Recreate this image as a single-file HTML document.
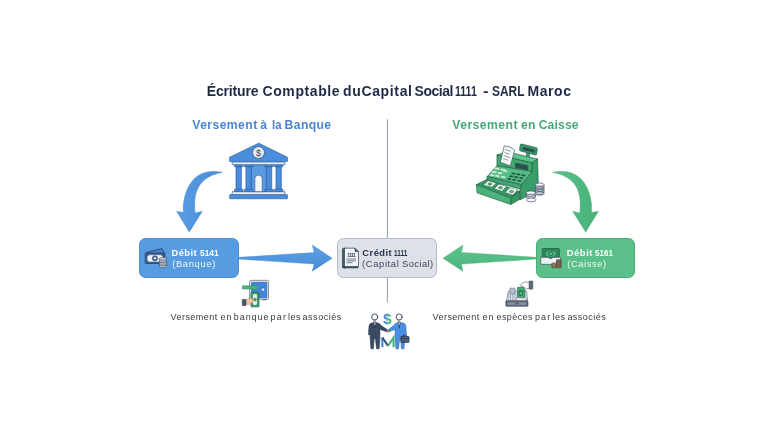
<!DOCTYPE html>
<html lang="fr">
<head>
<meta charset="utf-8">
<title>Écriture Comptable du Capital Social 1111 - SARL Maroc</title>
<style>
  html, body { margin: 0; padding: 0; }
  body {
    width: 768px; height: 432px; overflow: hidden; position: relative;
    background: #ffffff;
    font-family: "Liberation Sans", sans-serif;
  }
  .ln { position:absolute; left:0; top:0; margin:0; padding:0; will-change: transform; }
  .ln span { position:absolute; white-space:nowrap; line-height:1; transform-origin:0 0; display:block; }
  .box { position: absolute; box-sizing: border-box; border-radius: 6.5px; }
  #bl { left: 139.3px; top: 238.4px; width: 99.5px; height: 39.5px; background: #579be1; border: 1px solid #4a8cd8; }
  #bc { left: 337.3px; top: 238.4px; width: 99.6px; height: 39.3px; background: #dee1e8; border: 1px solid #b3bbc8; }
  #br { left: 535.5px; top: 238.4px; width: 99.7px; height: 39.5px; background: #5abf88; border: 1px solid #49ad78; }
  /*TEXTCSS*/
  #title { font-size:14.0px; font-weight:700; color:#1f2a44; }
  #hl { font-size:12.2px; font-weight:700; color:#4a86d2; }
  #hr { font-size:12.2px; font-weight:700; color:#49a877; }
  #bl1 { font-size:9.4px; font-weight:700; color:#ffffff; }
  #bl2 { font-size:9.4px; font-weight:400; color:rgba(255,255,255,0.9); }
  #bc1 { font-size:9.4px; font-weight:700; color:#27324c; }
  #bc2 { font-size:9.4px; font-weight:400; color:#3c4860; }
  #br1 { font-size:9.4px; font-weight:700; color:#ffffff; }
  #br2 { font-size:9.4px; font-weight:400; color:rgba(255,255,255,0.9); }
  #cl { font-size:9.0px; font-weight:400; color:#3a3a3a; }
  #cr { font-size:9.0px; font-weight:400; color:#3a3a3a; }
  /*/TEXTCSS*/
  svg { position: absolute; left: 0; top: 0; overflow: visible; }
</style>
</head>
<body>

<!-- ARROWS + LINE -->
<svg id="arrows" width="768" height="432" viewBox="0 0 768 432">
  <defs>
    <linearGradient id="gb" x1="0" y1="0" x2="0" y2="1">
      <stop offset="0" stop-color="#5da0e5"/><stop offset="1" stop-color="#478cd8"/>
    </linearGradient>
    <linearGradient id="gg" x1="0" y1="0" x2="0" y2="1">
      <stop offset="0" stop-color="#60c48e"/><stop offset="1" stop-color="#48b37a"/>
    </linearGradient>
    <linearGradient id="gbc" x1="0" y1="0" x2="1" y2="0">
      <stop offset="0" stop-color="#5b9ee4"/><stop offset="1" stop-color="#4589d7"/>
    </linearGradient>
    <linearGradient id="ggc" x1="0" y1="0" x2="1" y2="0">
      <stop offset="0" stop-color="#5cc18a"/><stop offset="1" stop-color="#46b178"/>
    </linearGradient>
  </defs>
  <!-- centre line -->
  <rect x="386.85" y="119.3" width="1.15" height="120" fill="#a1a9b7"/>
  <rect x="386.85" y="277" width="1.15" height="25.6" fill="#a1a9b7"/>
  <!-- blue curved arrow -->
  <path d="M222.3 172.3 C186.6 165.1 182.1 202 183.6 212.5 L176.7 211.4 L189.3 232 L202.2 211.4 L195 213 C194.2 199.8 192.7 177.9 222.3 172.3 Z" fill="url(#gbc)" stroke="#4384d0" stroke-width="0.5"/>
  <!-- green curved arrow -->
  <path d="M552.7 172.3 C588.4 165.1 592.9 202 591.4 212.5 L598.3 211.4 L585.7 232 L572.8 211.4 L580 213 C580.8 199.8 582.3 177.9 552.7 172.3 Z" fill="url(#ggc)" stroke="#43a872" stroke-width="0.5"/>
  <!-- blue straight arrow -->
  <path d="M238.5 257.3 L314.2 252.6 L312.2 245.1 L332.2 258.2 L312.2 271.3 L314.2 264 L238.5 259.1 Z" fill="url(#gb)" stroke="#4384d0" stroke-width="0.4"/>
  <!-- green straight arrow -->
  <path d="M536 257.3 L461.4 252.4 L462.9 245.1 L443 258.2 L462.9 271.3 L461.4 264.1 L536 259.1 Z" fill="url(#gg)" stroke="#43a872" stroke-width="0.4"/>
</svg>

<!-- BOXES -->
<div class="box" id="bl"></div>
<div class="box" id="bc"></div>
<div class="box" id="br"></div>

<!--TEXT-->
<h1 class="ln" id="title"><span style="left:206.75px;top:84.15px;letter-spacing:-0.161px;">Écriture</span> <span style="left:262.50px;top:84.15px;letter-spacing:0.591px;">Comptable</span> <span style="left:343.00px;top:84.15px;letter-spacing:0.647px;">duCapital</span> <span style="left:414.50px;top:84.15px;letter-spacing:-0.450px;">Social</span> <span style="left:455.25px;top:84.15px;transform:scaleX(0.7574);">1111</span> <span style="left:483.00px;top:84.15px;transform:scaleX(1.2042);">-</span> <span style="left:491.75px;top:84.15px;transform:scaleX(0.8511);">SARL</span> <span style="left:527.50px;top:84.15px;letter-spacing:0.563px;">Maroc</span></h1>
<h2 class="ln" id="hl"><span style="left:192.30px;top:118.67px;letter-spacing:0.405px;">Versement</span> <span style="left:260.25px;top:118.67px;">à</span> <span style="left:271.80px;top:118.67px;transform:scaleX(0.9359);">la</span> <span style="left:284.60px;top:118.67px;letter-spacing:0.351px;">Banque</span></h2>
<h2 class="ln" id="hr"><span style="left:452.30px;top:118.67px;letter-spacing:0.450px;">Versement</span> <span style="left:521.00px;top:118.67px;letter-spacing:0.270px;">en</span> <span style="left:538.65px;top:118.67px;letter-spacing:0.135px;">Caisse</span></h2>
<div class="ln" id="bl1"><span style="left:171.45px;top:248.04px;letter-spacing:0.428px;">Débit</span> <span style="left:199.65px;top:248.04px;transform:scaleX(0.8918);">5141</span></div>
<div class="ln" id="bl2"><span style="left:172.15px;top:259.04px;letter-spacing:0.669px;">(Banque)</span></div>
<div class="ln" id="bc1"><span style="left:362.35px;top:248.04px;letter-spacing:0.459px;">Crédit</span> <span style="left:393.60px;top:248.04px;transform:scaleX(0.6834);">1111</span></div>
<div class="ln" id="bc2"><span style="left:362.10px;top:259.04px;letter-spacing:0.617px;">(Capital</span> <span style="left:402.00px;top:259.04px;letter-spacing:0.428px;">Social)</span></div>
<div class="ln" id="br1"><span style="left:566.80px;top:248.04px;letter-spacing:0.540px;">Débit</span> <span style="left:594.95px;top:248.04px;transform:scaleX(0.8596);">5161</span></div>
<div class="ln" id="br2"><span style="left:567.30px;top:259.04px;letter-spacing:0.546px;">(Caisse)</span></div>
<p class="ln" id="cl"><span style="left:170.50px;top:313.38px;letter-spacing:0.461px;">Versement</span> <span style="left:220.55px;top:313.38px;letter-spacing:0.900px;">en</span> <span style="left:233.75px;top:313.38px;letter-spacing:0.945px;">banque</span> <span style="left:270.50px;top:313.38px;letter-spacing:1.238px;">par</span> <span style="left:288.00px;top:313.38px;letter-spacing:0.495px;">les</span> <span style="left:302.50px;top:313.38px;letter-spacing:0.546px;">associés</span></p>
<p class="ln" id="cr"><span style="left:432.50px;top:313.38px;letter-spacing:0.461px;">Versement</span> <span style="left:482.55px;top:313.38px;letter-spacing:0.900px;">en</span> <span style="left:496.50px;top:313.38px;letter-spacing:0.405px;">espèces</span> <span style="left:534.95px;top:313.38px;letter-spacing:1.170px;">par</span> <span style="left:552.60px;top:313.38px;letter-spacing:0.405px;">les</span> <span style="left:567.40px;top:313.38px;letter-spacing:0.463px;">associés</span></p>
<!--/TEXT-->

<!-- ICONS -->
<!--ICON-BANK-->
<svg id="ic-bank" style="left:224px;top:138px" width="72" height="64" viewBox="0 0 486 432">
  <g stroke="#2b5c9e" stroke-width="4.5" stroke-linejoin="round">
    <!-- base -->
    <rect x="38" y="382" width="390" height="28" rx="4" fill="#4a8edb"/>
    <rect x="55" y="362" width="356" height="20" fill="#e9edf3"/>
    <!-- centre body -->
    <rect x="183" y="180" width="104" height="182" fill="#5b9ae0"/>
    <!-- door -->
    <path d="M208 362 V275 a25 25 0 0 1 50 0 V362 Z" fill="#f4f6fa"/>
    <!-- columns -->
    <g fill="#4a8edb">
      <rect x="81" y="192" width="36" height="156"/><rect x="70" y="180" width="58" height="14" rx="3"/><rect x="70" y="346" width="58" height="16" rx="3"/>
      <rect x="148" y="192" width="36" height="156"/><rect x="137" y="180" width="58" height="14" rx="3"/><rect x="137" y="346" width="58" height="16" rx="3"/>
      <rect x="286" y="192" width="36" height="156"/><rect x="275" y="180" width="58" height="14" rx="3"/><rect x="275" y="346" width="58" height="16" rx="3"/>
      <rect x="351" y="192" width="36" height="156"/><rect x="340" y="180" width="58" height="14" rx="3"/><rect x="340" y="346" width="58" height="16" rx="3"/>
    </g>
    <!-- entablature -->
    <rect x="55" y="162" width="356" height="18" fill="#e9edf3"/>
    <!-- roof -->
    <path d="M235 35 L428 130 V158 H38 V130 Z" fill="#4a8edb"/>
    <circle cx="233" cy="98" r="40" fill="#e9edf3" stroke="#3a4a63" stroke-width="5"/>
  </g>
  <text x="233" y="121" font-family="Liberation Sans, sans-serif" font-size="62" font-weight="400" text-anchor="middle" fill="#3a4a63">$</text>
</svg>
<!--/ICON-BANK-->
<!--ICON-REGISTER-->
<svg id="ic-register" style="left:474px;top:140px" width="72" height="66" viewBox="0 0 471 432">
  <g stroke="#1d5245" stroke-width="4" stroke-linejoin="round">
    <!-- pole + sign -->
    <path d="M343 85 L362 89 V142 L343 138 Z" fill="#3fa86d"/>
    <path d="M312 26 L408 50 Q416 53 414 62 L410 92 Q408 100 400 98 L304 72 Q297 70 298 62 L302 34 Q304 25 312 26 Z" fill="#379a63"/>
    <path d="M320 44 L398 64 L395 84 L317 63 Z" fill="#2b4f55" stroke="none"/>
    <!-- right side of body -->
    <path d="M380 150 L416 124 L422 330 L300 392 L300 330 L310 292 L380 205 Z" fill="#3a9c66"/>
    <!-- top face of upper block -->
    <path d="M150 98 L212 76 L416 124 L380 150 Z" fill="#5cc38b"/>
    <!-- front face of upper block -->
    <path d="M150 98 L380 150 L380 206 L150 168 Z" fill="#42a96f"/>
    <!-- display -->
    <path d="M270 150 L352 167 L352 197 L270 180 Z" fill="#2b4f55" stroke-width="3"/>
    <!-- receipt -->
    <path d="M198 38 Q236 40 266 66 L238 170 L172 146 Z" fill="#f6f8f7" stroke="#2a4a5a" stroke-width="4"/>
    <!-- keypad slanted face -->
    <path d="M150 168 L380 206 L310 292 L85 240 Z" fill="#56bd85"/>
    <!-- front strip -->
    <path d="M85 240 L310 292 L306 322 L85 262 Z" fill="#40a86e"/>
    <!-- drawer interior -->
    <path d="M15 292 L85 258 L300 338 L240 380 Z" fill="#379763"/>
    <!-- drawer right side -->
    <path d="M240 380 L300 338 L300 388 L240 422 Z" fill="#379763"/>
    <!-- drawer front -->
    <path d="M15 292 L240 380 L240 422 L20 346 Z" fill="#49b47a"/>
  </g>
  <!-- receipt lines -->
  <g stroke="#4a6070" stroke-width="4" fill="none">
    <path d="M205 62 L240 74"/><path d="M200 82 L232 93"/><path d="M196 102 L236 116"/><path d="M192 122 L222 132"/>
  </g>
  <!-- light keys -->
  <g fill="#d8f0e0">
    <path d="M140 180 l28 5 l-8 10 l-28 -5z"/><path d="M178 187 l28 5 l-8 10 l-28 -5z"/><path d="M122 202 l28 5 l-8 10 l-28 -5z"/><path d="M160 209 l28 5 l-8 10 l-28 -5z"/><path d="M198 196 l24 5 l-8 10 l-24 -5z"/><path d="M142 228 l28 6 l-8 10 l-28 -6z"/><path d="M182 234 l26 6 l-8 10 l-26 -6z"/><path d="M110 222 l24 5 l-8 10 l-24 -5z"/>
  </g>
  <!-- dark keys -->
  <g fill="#235548">
    <path d="M250 212 l24 5 l-8 10 l-24 -5z"/><path d="M283 218 l24 5 l-8 10 l-24 -5z"/><path d="M316 224 l24 5 l-8 10 l-24 -5z"/>
    <path d="M236 230 l24 5 l-8 10 l-24 -5z"/><path d="M269 236 l24 5 l-8 10 l-24 -5z"/><path d="M302 242 l24 5 l-8 10 l-24 -5z"/>
    <path d="M222 248 l24 5 l-8 10 l-24 -5z"/><path d="M255 254 l24 5 l-8 10 l-24 -5z"/><path d="M288 260 l24 5 l-8 10 l-24 -5z"/>
  </g>
  <!-- bills in drawer -->
  <g stroke="#1d5245" stroke-width="2.5">
    <path d="M93 266 L145 281 L117 309 L62 294 Z" fill="#eef5ef"/>
    <path d="M163 289 L213 303 L183 336 L133 319 Z" fill="#eef5ef"/>
    <path d="M234 313 L287 325 L253 360 L204 343 Z" fill="#eef5ef"/>
    <ellipse cx="104" cy="288" rx="13" ry="8" fill="#4ab57c"/>
    <ellipse cx="173" cy="312" rx="13" ry="8" fill="#4ab57c"/>
    <ellipse cx="245" cy="337" rx="13" ry="8" fill="#4ab57c"/>
  </g>
  <circle cx="122" cy="354" r="7" fill="#e8efe9" stroke="#1f5a48" stroke-width="3"/>
  <!-- coins -->
  <g stroke="#3a4a63" stroke-width="4" fill="#f2f4f7">
    <path d="M402 292 V350 a28 11 0 0 0 56 0 V292 Z"/>
    <ellipse cx="430" cy="348" rx="28" ry="11" fill="none"/>
    <ellipse cx="430" cy="337" rx="28" ry="11" fill="none"/>
    <ellipse cx="430" cy="326" rx="28" ry="11" fill="none"/>
    <ellipse cx="430" cy="315" rx="28" ry="11" fill="none"/>
    <ellipse cx="430" cy="304" rx="28" ry="11" fill="none"/>
    <ellipse cx="430" cy="292" rx="28" ry="11"/>
    <path d="M342 345 V372 a30 12 0 0 0 60 0 V345 Z"/>
    <ellipse cx="372" cy="370" rx="30" ry="12" fill="none"/>
    <ellipse cx="372" cy="358" rx="30" ry="12" fill="none"/>
    <ellipse cx="372" cy="345" rx="30" ry="12"/>
    <ellipse cx="374" cy="392" rx="32" ry="13"/>
  </g>
</svg>
<!--/ICON-REGISTER-->
<!--ICON-MONEY-L-->
<svg id="ic-moneyl" style="left:140px;top:244px" width="36" height="30" viewBox="0 0 518 432">
  <g stroke="#2a4468" stroke-width="12" stroke-linejoin="round">
    <!-- back bill -->
    <path d="M95 120 L315 65 L355 140 L355 250 L120 270 Z" fill="#4a84cf"/>
    <!-- front bill -->
    <rect x="75" y="130" width="280" height="150" rx="6" fill="#3a639c"/>
    <path d="M130 155 H300 L330 180 V235 L300 258 H130 L102 235 V180 Z" fill="#eef1f5" stroke-width="6"/>
    <circle cx="215" cy="206" r="38" fill="#35588c" stroke-width="6"/>
    <circle cx="215" cy="206" r="18" fill="#eef1f5" stroke="none"/>
    <!-- coin stack -->
    <path d="M278 215 V325 a52 20 0 0 0 104 0 V215 Z" fill="#aab3bf" stroke-width="8"/>
  </g>
  <g stroke="#3a4a63" stroke-width="8" fill="none">
    <ellipse cx="330" cy="215" rx="52" ry="20" fill="#c9d0d9"/>
    <path d="M278 250 a52 20 0 0 0 104 0"/>
    <path d="M278 288 a52 20 0 0 0 104 0"/>
  </g>
</svg>
<!--/ICON-MONEY-L-->
<!--ICON-DOC-->
<svg id="ic-doc" style="left:336px;top:240px" width="36" height="36" viewBox="0 0 432 432">
  <!-- back page -->
  <path d="M78 110 Q78 98 90 98 H120 V335 H90 Q78 335 78 323 Z" fill="#2f6b58" stroke="#26374f" stroke-width="8" stroke-linejoin="round"/>
  <path d="M90 318 H262 V335 H90 Z" fill="#2f6b58" stroke="#26374f" stroke-width="8" stroke-linejoin="round"/>
  <!-- front page -->
  <path d="M102 98 H228 L270 140 V318 H102 Z" fill="#f3f5f8" stroke="#26374f" stroke-width="8" stroke-linejoin="round"/>
  <path d="M228 98 V140 H270 Z" fill="#3c7a66" stroke="#26374f" stroke-width="6" stroke-linejoin="round"/>
  <g stroke="#4a566b" stroke-width="9" fill="none">
    <path d="M125 228 H240"/><path d="M125 250 H240"/><path d="M125 272 H200"/>
  </g>
  <text x="183" y="200" text-anchor="middle" font-family="Liberation Sans, sans-serif" font-weight="700" font-size="62" letter-spacing="-8" fill="#3a465c">1111</text>
</svg>
<!--/ICON-DOC-->
<!--ICON-MONEY-R-->
<svg id="ic-moneyr" style="left:534px;top:240px" width="36" height="36" viewBox="0 0 432 432">
  <g stroke-linejoin="round">
    <!-- bill -->
    <rect x="98" y="102" width="206" height="128" rx="6" fill="#2f8a5a" stroke="#1f5a48" stroke-width="9"/>
    <ellipse cx="201" cy="166" rx="74" ry="42" fill="#46ad76" stroke="#1f5a48" stroke-width="6"/>
    <circle cx="201" cy="166" r="24" fill="#2f8a5a" stroke="#1f5a48" stroke-width="5"/>
    <circle cx="201" cy="166" r="10" fill="#bfe6cf"/>
    <!-- tray -->
    <path d="M82 208 H170 Q200 240 232 208 H320 V292 H82 Z" fill="#eef1f5" stroke="#3a4a63" stroke-width="8"/>
    <!-- coin stacks -->
    <rect x="270" y="236" width="56" height="98" rx="8" fill="#8a6f4e" stroke="#3f3a3a" stroke-width="7"/>
    <rect x="214" y="276" width="56" height="58" rx="8" fill="#a98a62" stroke="#3f3a3a" stroke-width="7"/>
    <g stroke="#3f3a3a" stroke-width="6"><path d="M270 262 H326"/><path d="M270 288 H326"/><path d="M270 312 H326"/><path d="M214 300 H270"/><path d="M214 318 H270"/></g>
  </g>
</svg>
<!--/ICON-MONEY-R-->
<!--ICON-SAFE-->
<svg id="ic-safe" style="left:236px;top:276px" width="40" height="36" viewBox="0 0 480 432">
  <g stroke-linejoin="round">
    <!-- feet -->
    <rect x="318" y="270" width="50" height="18" rx="6" fill="#4a8edb" stroke="#3a4a63" stroke-width="6"/>
    <!-- safe body -->
    <rect x="162" y="52" width="228" height="226" rx="14" fill="#e3e7ed" stroke="#5a6678" stroke-width="8"/>
    <rect x="186" y="76" width="184" height="184" rx="4" fill="#3f86dc" stroke="#2d5fa3" stroke-width="7"/>
    <circle cx="325" cy="163" r="20" fill="#f1f3f6" stroke="#2d5fa3" stroke-width="7"/>
    <!-- green arrow -->
    <path d="M78 118 H222 V98 L272 137 L222 176 V156 H78 Z" fill="#4ab57c" stroke="#2f8056" stroke-width="6"/>
    <!-- bill -->
    <rect x="180" y="196" width="96" height="174" rx="5" fill="#3da56d" stroke="#1f5a48" stroke-width="8"/>
    <rect x="198" y="214" width="58" height="138" rx="22" fill="#e9f3ec" stroke="#1f5a48" stroke-width="5"/>
    <circle cx="228" cy="283" r="17" fill="#3da56d" stroke="#1f5a48" stroke-width="5"/>
    <!-- hand -->
    <path d="M118 292 Q150 262 186 262 L196 282 L214 276 Q224 290 208 302 L176 336 Q150 344 118 338 Z" fill="#f0c6a4" stroke="#8a5e45" stroke-width="5"/>
    <!-- cuff -->
    <rect x="74" y="280" width="46" height="76" rx="6" fill="#4a566b" stroke="#333d50" stroke-width="5"/>
  </g>
</svg>
<!--/ICON-SAFE-->
<!--ICON-HANDREG-->
<svg id="ic-handreg" style="left:500px;top:276px" width="40" height="36" viewBox="0 0 480 432">
  <g stroke-linejoin="round">
    <!-- body upper -->
    <path d="M100 182 H320 L332 300 H76 Z" fill="#e4e8ee" stroke="#5a6678" stroke-width="7"/>
    <!-- slots/keys -->
    <g stroke="#7a8698" stroke-width="7"><path d="M104 205 V290"/><path d="M126 205 V290"/><path d="M148 205 V290"/><path d="M170 205 V290"/><path d="M192 205 V290"/></g>
    <!-- display box -->
    <rect x="120" y="146" width="60" height="68" rx="4" fill="#b8c0cc" stroke="#5a6678" stroke-width="7"/>
    <!-- bill -->
    <rect x="210" y="136" width="90" height="126" rx="5" fill="#3fae73" stroke="#1f5a48" stroke-width="7"/>
    <ellipse cx="250" cy="205" rx="26" ry="34" fill="#2f8f5c" stroke="#1f5a48" stroke-width="5"/>
    <circle cx="250" cy="208" r="11" fill="#7fd1a3"/>
    <!-- front of register slot -->
    <path d="M196 262 H316 L320 300 H190 Z" fill="#e4e8ee" stroke="#5a6678" stroke-width="5"/>
    <!-- base -->
    <rect x="70" y="298" width="266" height="66" rx="8" fill="#5f6b7d" stroke="#3a4557" stroke-width="7"/>
    <rect x="92" y="318" width="222" height="28" fill="#8893a3"/>
    <rect x="186" y="322" width="34" height="18" fill="#4a566b"/>
    <!-- hand -->
    <path d="M246 108 Q262 80 300 74 L352 74 V150 L318 152 L282 170 L296 140 L270 128 Q252 128 246 108 Z" fill="#ffffff" stroke="#3a4557" stroke-width="6"/>
    <path d="M250 112 q12 14 30 6" fill="none" stroke="#d9a07a" stroke-width="8"/>
    <!-- cuff -->
    <rect x="350" y="60" width="44" height="98" rx="8" fill="#5f6b7d" stroke="#3a4557" stroke-width="6"/>
  </g>
</svg>
<!--/ICON-HANDREG-->
<!--ICON-SHAKE-->
<svg id="ic-shake" style="left:364px;top:308px" width="48" height="44" viewBox="0 0 471 432">
  <g stroke-linejoin="round" stroke-linecap="round">
    <!-- left man -->
    <path d="M50 172 Q54 150 84 146 H128 Q156 150 168 172 L232 216 L224 234 L156 208 V292 L148 400 H124 L112 300 H100 L92 400 H68 L60 292 V262 L46 262 Z" fill="#3c4b64" stroke="#26334a" stroke-width="6"/>
    <path d="M94 146 L106 180 L118 146 Z" fill="#f4f6f9" stroke="#26334a" stroke-width="4"/>
    <path d="M106 152 L101 192 L106 202 L111 192 Z" fill="#26334a"/>
    <circle cx="105" cy="88" r="30" fill="#ffffff" stroke="#26334a" stroke-width="8"/>
    <path d="M100 120 H112 V146 H100 Z" fill="#ffffff" stroke="#26334a" stroke-width="5"/>
    <!-- right man -->
    <path d="M410 172 Q406 150 376 146 H332 Q304 150 292 172 L236 216 L244 234 L306 208 V292 L314 400 H338 L350 300 H360 L368 400 H392 L400 292 V262 L414 262 Z" fill="#4a90e2" stroke="#2c5f9f" stroke-width="6"/>
    <path d="M334 146 L346 180 L358 146 Z" fill="#f4f6f9" stroke="#26334a" stroke-width="4"/>
    <path d="M346 152 L341 192 L346 202 L351 192 Z" fill="#26334a"/>
    <circle cx="345" cy="88" r="30" fill="#ffffff" stroke="#26334a" stroke-width="8"/>
    <path d="M340 120 H352 V146 H340 Z" fill="#ffffff" stroke="#26334a" stroke-width="5"/>
    <!-- hands -->
    <ellipse cx="234" cy="226" rx="12" ry="11" fill="#f0c6a4" stroke="#5a4638" stroke-width="5"/>
    <!-- briefcase -->
    <path d="M384 280 V268 H418 V280" fill="none" stroke="#26334a" stroke-width="8"/>
    <rect x="362" y="280" width="80" height="58" rx="7" fill="#4a5f80" stroke="#26334a" stroke-width="7"/>
    <path d="M362 300 H442" stroke="#26334a" stroke-width="5"/>
  </g>
  <!-- dollar sign: left blue, right green -->
  <defs>
    <clipPath id="cpL"><rect x="140" y="10" width="88" height="190"/></clipPath>
    <clipPath id="cpR"><rect x="228" y="10" width="90" height="190"/></clipPath>
  </defs>
  <text x="228" y="156" text-anchor="middle" font-family="Liberation Sans, sans-serif" font-weight="700" font-size="148" fill="#3f86dc" clip-path="url(#cpL)">$</text>
  <text x="228" y="156" text-anchor="middle" font-family="Liberation Sans, sans-serif" font-weight="700" font-size="148" fill="#46b078" clip-path="url(#cpR)">$</text>
  <!-- M logo -->
  <g fill="none" stroke-width="20" stroke-linejoin="miter">
    <path d="M180 385 V290" stroke="#3f86dc"/>
    <path d="M180 290 L236 372" stroke="#2c4f8a"/>
    <path d="M236 372 L290 290 V385" stroke="#46b078"/>
  </g>
</svg>
<!--/ICON-SHAKE-->

</body>
</html>
